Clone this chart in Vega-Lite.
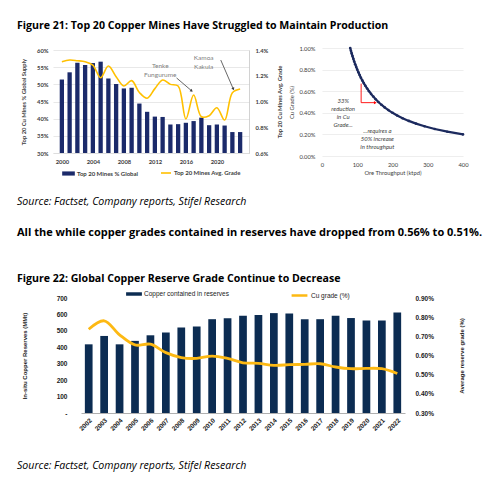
{
  "$schema": "https://vega.github.io/schema/vega-lite/v6.json",
  "padding": {"left": 17, "top": 0, "right": 0, "bottom": 0},
  "background": "white",
  "columns": 2,
  "align": "each",
  "bounds": "flush",
  "spacing": {"row": 0, "column": 73},
  "resolve": {"scale": {"color": "independent", "stroke": "independent"}},
  "config": {
    "view": {"stroke": null},
    "title": {"anchor": "start", "frame": "group", "orient": "bottom", "baseline": "middle", "font": "Open Sans", "fontSize": 10.6, "fontWeight": "bold", "color": "#000000", "dx": -36},
    "axis": {"labelFont": "Lato", "titleFont": "Lato", "labelColor": "#404040", "titleColor": "#404040", "labelFontSize": 5.8, "titleFontSize": 5.8, "labelFontWeight": "bold", "titleFontWeight": "bold", "ticks": false, "domain": false, "grid": false},
    "legend": {"labelFont": "Lato", "labelColor": "#404040", "labelFontSize": 6, "labelFontWeight": "bold", "padding": 0, "labelOffset": 2, "title": null}
  },
  "datasets": {
    "mines": [
      {"year": 2000, "share": 51.4, "grade": 1.309},
      {"year": 2001, "share": 53.5, "grade": 1.322},
      {"year": 2002, "share": 56.3, "grade": 1.317},
      {"year": 2003, "share": 55.6, "grade": 1.309},
      {"year": 2004, "share": 56.2, "grade": 1.283},
      {"year": 2005, "share": 56.6, "grade": 1.185},
      {"year": 2006, "share": 51.7, "grade": 1.276},
      {"year": 2007, "share": 50.1, "grade": 1.193},
      {"year": 2008, "share": 48.8, "grade": 1.12},
      {"year": 2009, "share": 49.0, "grade": 1.162},
      {"year": 2010, "share": 44.4, "grade": 1.07},
      {"year": 2011, "share": 42.0, "grade": 1.025},
      {"year": 2012, "share": 40.6, "grade": 1.1},
      {"year": 2013, "share": 40.5, "grade": 1.167},
      {"year": 2014, "share": 38.3, "grade": 1.133},
      {"year": 2015, "share": 38.4, "grade": 1.12},
      {"year": 2016, "share": 38.8, "grade": 0.864},
      {"year": 2017, "share": 39.3, "grade": 1.05},
      {"year": 2018, "share": 40.3, "grade": 0.882},
      {"year": 2019, "share": 38.1, "grade": 0.89},
      {"year": 2020, "share": 38.3, "grade": 0.952},
      {"year": 2021, "share": 38.0, "grade": 0.856},
      {"year": 2022, "share": 36.1, "grade": 1.068},
      {"year": 2023, "share": 36.1, "grade": 1.097}
    ],
    "mineNotes": [
      {"label": "Tenke\nFungurume", "x": 2012.7, "y": 1.272},
      {"label": "Kamoa\nKakula", "x": 2018.3, "y": 1.339}
    ],
    "mineArrows": [
      {"name": "tenke", "x": 2014.8, "y": 1.183, "x2": 2016.7, "y2": 1.085},
      {"name": "kamoa", "x": 2020.5, "y": 1.322, "x2": 2022.1, "y2": 1.1}
    ],
    "curve": [
      {"throughput": 80.0, "cu": 1.0},
      {"throughput": 82.1, "cu": 0.975},
      {"throughput": 84.2, "cu": 0.95},
      {"throughput": 86.5, "cu": 0.925},
      {"throughput": 88.9, "cu": 0.9},
      {"throughput": 91.4, "cu": 0.875},
      {"throughput": 94.1, "cu": 0.85},
      {"throughput": 97.0, "cu": 0.825},
      {"throughput": 100.0, "cu": 0.8},
      {"throughput": 103.2, "cu": 0.775},
      {"throughput": 106.7, "cu": 0.75},
      {"throughput": 110.3, "cu": 0.725},
      {"throughput": 114.3, "cu": 0.7},
      {"throughput": 118.5, "cu": 0.675},
      {"throughput": 123.1, "cu": 0.65},
      {"throughput": 128.0, "cu": 0.625},
      {"throughput": 133.3, "cu": 0.6},
      {"throughput": 139.1, "cu": 0.575},
      {"throughput": 145.5, "cu": 0.55},
      {"throughput": 152.4, "cu": 0.525},
      {"throughput": 160.0, "cu": 0.5},
      {"throughput": 168.4, "cu": 0.475},
      {"throughput": 177.8, "cu": 0.45},
      {"throughput": 188.2, "cu": 0.425},
      {"throughput": 200.0, "cu": 0.4},
      {"throughput": 213.3, "cu": 0.375},
      {"throughput": 228.6, "cu": 0.35},
      {"throughput": 246.2, "cu": 0.325},
      {"throughput": 266.7, "cu": 0.3},
      {"throughput": 290.9, "cu": 0.275},
      {"throughput": 320.0, "cu": 0.25},
      {"throughput": 355.6, "cu": 0.225},
      {"throughput": 400.0, "cu": 0.2}
    ],
    "curveNotes": [
      {"label": "33%\nreduction\nin Cu\nGrade...", "x": 60, "y": 0.51},
      {"label": "...requires a\n50% increase\nin throughput", "x": 157, "y": 0.229}
    ],
    "curveArrows": [
      {"x": 111, "y": 0.67, "x2": 111, "y2": 0.494},
      {"x": 111, "y": 0.494, "x2": 150, "y2": 0.494}
    ],
    "reserves": [
      {"year": 2002, "reserves": 418, "grade": 0.737},
      {"year": 2003, "reserves": 469, "grade": 0.781},
      {"year": 2004, "reserves": 418, "grade": 0.708},
      {"year": 2005, "reserves": 439, "grade": 0.655},
      {"year": 2006, "reserves": 473, "grade": 0.659},
      {"year": 2007, "reserves": 490, "grade": 0.615},
      {"year": 2008, "reserves": 520, "grade": 0.589},
      {"year": 2009, "reserves": 527, "grade": 0.585},
      {"year": 2010, "reserves": 571, "grade": 0.597},
      {"year": 2011, "reserves": 576, "grade": 0.585},
      {"year": 2012, "reserves": 592, "grade": 0.562},
      {"year": 2013, "reserves": 596, "grade": 0.559},
      {"year": 2014, "reserves": 608, "grade": 0.549},
      {"year": 2015, "reserves": 606, "grade": 0.552},
      {"year": 2016, "reserves": 571, "grade": 0.554},
      {"year": 2017, "reserves": 571, "grade": 0.557},
      {"year": 2018, "reserves": 592, "grade": 0.54},
      {"year": 2019, "reserves": 578, "grade": 0.531},
      {"year": 2020, "reserves": 563, "grade": 0.533},
      {"year": 2021, "reserves": 563, "grade": 0.531},
      {"year": 2022, "reserves": 612, "grade": 0.506}
    ]
  },
  "concat": [
    {
      "width": 196, "height": 48,
      "data": {"values": []},
      "mark": {"type": "rule", "strokeOpacity": 0},
      "encoding": {},
      "title": {"text": "Figure 21: Top 20 Copper Mines Have Struggled to Maintain Production", "orient": "bottom", "offset": -27}
    },
    {"width": 1, "height": 1, "data": {"values": []}, "mark": {"type": "rule", "strokeOpacity": 0}, "encoding": {}},
    {
      "width": 196,
      "height": 108,
      "layer": [
        {
          "data": {"name": "mines"},
          "mark": {"type": "bar", "width": 4.3},
          "encoding": {
            "x": {"field": "year", "type": "quantitative", "scale": {"domain": [1999.5, 2023.5], "nice": false},
              "axis": {"orient": "bottom", "values": [2000, 2004, 2008, 2012, 2016, 2020], "format": "d", "title": null, "offset": -3, "domain": true, "domainColor": "#d9d9d9", "domainWidth": 0.7, "labelPadding": 5, "labelFlush": false, "labelOverlap": false}},
            "y": {"field": "share", "type": "quantitative", "scale": {"domain": [30, 60], "range": [105, 2]},
              "axis": {"orient": "left", "values": [30, 35, 40, 45, 50, 55, 60], "labelExpr": "datum.value + '%'", "grid": true, "gridColor": "#d9d9d9", "gridWidth": 0.6, "labelPadding": 5, "title": "Top 20 Cu Mines % Global Supply", "titlePadding": 10}},
            "y2": {"datum": 30},
            "color": {"datum": "Top 20 Mines % Global", "type": "nominal", "scale": {"range": ["#1b2a6a"]},
              "legend": {"orient": "none", "legendX": 9, "legendY": 119, "symbolType": "M-1,-0.33L1,-0.33L1,0.33L-1,0.33Z", "symbolSize": 160, "symbolStrokeWidth": 0}}
          }
        },
        {
          "data": {"name": "mines"},
          "mark": {"type": "line", "interpolate": "catmull-rom", "strokeWidth": 1.6},
          "encoding": {
            "x": {"field": "year", "type": "quantitative", "scale": {"domain": [1999.5, 2023.5], "nice": false},
              "axis": {"orient": "bottom", "values": [2000, 2004, 2008, 2012, 2016, 2020], "format": "d", "title": null, "offset": -3, "domain": true, "domainColor": "#d9d9d9", "domainWidth": 0.7, "labelPadding": 5, "labelFlush": false, "labelOverlap": false}},
            "y": {"field": "grade", "type": "quantitative", "scale": {"domain": [0.6, 1.4], "range": [105, 2]},
              "axis": {"orient": "right", "values": [0.6, 0.8, 1.0, 1.2, 1.4], "labelExpr": "format(datum.value, '.1f') + '%'", "domain": true, "domainColor": "#bfbfbf", "domainWidth": 0.7, "labelPadding": 6, "title": "Top 20 Cu Mines Avg. Grade", "titleAngle": -90, "titlePadding": 15}},
            "stroke": {"datum": "Top 20 Mines Avg. Grade", "type": "nominal", "scale": {"range": ["#ffc000"]},
              "legend": {"orient": "none", "legendX": 107, "legendY": 119, "symbolType": "stroke", "symbolSize": 100, "symbolStrokeWidth": 1.6}}
          }
        },
        {
          "data": {"name": "mineNotes"},
          "mark": {"type": "text", "font": "Lato", "fontSize": 6.5, "color": "#7f7f7f", "lineBreak": "\n", "lineHeight": 9, "align": "center", "baseline": "middle"},
          "encoding": {
            "x": {"field": "x", "type": "quantitative", "scale": {"domain": [1999.5, 2023.5], "nice": false},
              "axis": {"orient": "bottom", "values": [2000, 2004, 2008, 2012, 2016, 2020], "format": "d", "title": null, "offset": -3, "domain": true, "domainColor": "#d9d9d9", "domainWidth": 0.7, "labelPadding": 5, "labelFlush": false, "labelOverlap": false}},
            "y": {"field": "y", "type": "quantitative", "scale": {"domain": [0.6, 1.4], "range": [105, 2]}, "axis": null},
            "text": {"field": "label"}
          }
        },
        {
          "data": {"name": "mineArrows"},
          "mark": {"type": "rule", "color": "#404040", "strokeWidth": 0.8},
          "encoding": {
            "x": {"field": "x", "type": "quantitative", "scale": {"domain": [1999.5, 2023.5], "nice": false},
              "axis": {"orient": "bottom", "values": [2000, 2004, 2008, 2012, 2016, 2020], "format": "d", "title": null, "offset": -3, "domain": true, "domainColor": "#d9d9d9", "domainWidth": 0.7, "labelPadding": 5, "labelFlush": false, "labelOverlap": false}},
            "y": {"field": "y", "type": "quantitative", "scale": {"domain": [0.6, 1.4], "range": [105, 2]}, "axis": null},
            "x2": {"field": "x2"},
            "y2": {"field": "y2"}
          }
        },
        {
          "data": {"name": "mineArrows"},
          "transform": [{"filter": "datum.name == 'tenke'"}],
          "mark": {"type": "point", "shape": "triangle", "filled": true, "color": "#404040", "size": 10, "angle": 129, "opacity": 1},
          "encoding": {
            "x": {"field": "x2", "type": "quantitative", "scale": {"domain": [1999.5, 2023.5], "nice": false},
              "axis": {"orient": "bottom", "values": [2000, 2004, 2008, 2012, 2016, 2020], "format": "d", "title": null, "offset": -3, "domain": true, "domainColor": "#d9d9d9", "domainWidth": 0.7, "labelPadding": 5, "labelFlush": false, "labelOverlap": false}},
            "y": {"field": "y2", "type": "quantitative", "scale": {"domain": [0.6, 1.4], "range": [105, 2]}, "axis": null}
          }
        },
        {
          "data": {"name": "mineArrows"},
          "transform": [{"filter": "datum.name == 'kamoa'"}],
          "mark": {"type": "point", "shape": "triangle", "filled": true, "color": "#404040", "size": 10, "angle": 154, "opacity": 1},
          "encoding": {
            "x": {"field": "x2", "type": "quantitative", "scale": {"domain": [1999.5, 2023.5], "nice": false},
              "axis": {"orient": "bottom", "values": [2000, 2004, 2008, 2012, 2016, 2020], "format": "d", "title": null, "offset": -3, "domain": true, "domainColor": "#d9d9d9", "domainWidth": 0.7, "labelPadding": 5, "labelFlush": false, "labelOverlap": false}},
            "y": {"field": "y2", "type": "quantitative", "scale": {"domain": [0.6, 1.4], "range": [105, 2]}, "axis": null}
          }
        }
      ],
      "resolve": {"scale": {"y": "independent"}}
    },
    {
      "width": 141,
      "height": 108,
      "layer": [
        {
          "data": {"name": "curve"},
          "mark": {"type": "line", "color": "#1c2a5e", "strokeWidth": 2.2, "point": {"filled": true, "size": 7, "color": "#1c2a5e"}},
          "encoding": {
            "x": {"field": "throughput", "type": "quantitative", "scale": {"domain": [0, 400], "nice": false},
              "axis": {"orient": "bottom", "values": [0, 100, 200, 300, 400], "labelOverlap": false, "labelFlush": false, "labelFontWeight": "normal", "labelPadding": 5, "title": "Ore Throughput (ktpd)", "titleFontWeight": "normal", "titlePadding": 3}},
            "y": {"field": "cu", "type": "quantitative", "scale": {"domain": [0, 1], "nice": false},
              "axis": {"orient": "left", "values": [0, 0.2, 0.4, 0.6, 0.8, 1.0], "labelExpr": "format(datum.value, '.2f') + '%'", "labelOverlap": false, "labelFontWeight": "normal", "grid": true, "gridColor": "#e3e3e3", "gridWidth": 0.6, "labelPadding": 7, "title": "Cu Grade (%)", "titleFontWeight": "normal", "titlePadding": 4}}
          }
        },
        {
          "data": {"name": "curveArrows"},
          "mark": {"type": "rule", "color": "#ff0000", "strokeWidth": 0.9},
          "encoding": {
            "x": {"field": "x", "type": "quantitative", "scale": {"domain": [0, 400], "nice": false},
              "axis": {"orient": "bottom", "values": [0, 100, 200, 300, 400], "labelOverlap": false, "labelFlush": false, "labelFontWeight": "normal", "labelPadding": 5, "title": "Ore Throughput (ktpd)", "titleFontWeight": "normal", "titlePadding": 3}},
            "y": {"field": "y", "type": "quantitative", "scale": {"domain": [0, 1], "nice": false},
              "axis": {"orient": "left", "values": [0, 0.2, 0.4, 0.6, 0.8, 1.0], "labelExpr": "format(datum.value, '.2f') + '%'", "labelOverlap": false, "labelFontWeight": "normal", "grid": true, "gridColor": "#e3e3e3", "gridWidth": 0.6, "labelPadding": 7, "title": "Cu Grade (%)", "titleFontWeight": "normal", "titlePadding": 4}},
            "x2": {"field": "x2"},
            "y2": {"field": "y2"}
          }
        },
        {
          "data": {"name": "curveArrows"},
          "transform": [{"filter": "datum.x2 > datum.x"}],
          "mark": {"type": "point", "shape": "triangle", "filled": true, "color": "#ff0000", "size": 10, "angle": 90, "opacity": 1},
          "encoding": {
            "x": {"field": "x2", "type": "quantitative", "scale": {"domain": [0, 400], "nice": false},
              "axis": {"orient": "bottom", "values": [0, 100, 200, 300, 400], "labelOverlap": false, "labelFlush": false, "labelFontWeight": "normal", "labelPadding": 5, "title": "Ore Throughput (ktpd)", "titleFontWeight": "normal", "titlePadding": 3}},
            "y": {"field": "y2", "type": "quantitative", "scale": {"domain": [0, 1], "nice": false},
              "axis": {"orient": "left", "values": [0, 0.2, 0.4, 0.6, 0.8, 1.0], "labelExpr": "format(datum.value, '.2f') + '%'", "labelOverlap": false, "labelFontWeight": "normal", "grid": true, "gridColor": "#e3e3e3", "gridWidth": 0.6, "labelPadding": 7, "title": "Cu Grade (%)", "titleFontWeight": "normal", "titlePadding": 4}}
          }
        },
        {
          "data": {"name": "curveNotes"},
          "mark": {"type": "text", "font": "Lato", "fontSize": 6, "fontStyle": "italic", "color": "#404040", "lineBreak": "\n", "lineHeight": 8, "align": "center", "baseline": "middle"},
          "encoding": {
            "x": {"field": "x", "type": "quantitative", "scale": {"domain": [0, 400], "nice": false},
              "axis": {"orient": "bottom", "values": [0, 100, 200, 300, 400], "labelOverlap": false, "labelFlush": false, "labelFontWeight": "normal", "labelPadding": 5, "title": "Ore Throughput (ktpd)", "titleFontWeight": "normal", "titlePadding": 3}},
            "y": {"field": "y", "type": "quantitative", "scale": {"domain": [0, 1], "nice": false},
              "axis": {"orient": "left", "values": [0, 0.2, 0.4, 0.6, 0.8, 1.0], "labelExpr": "format(datum.value, '.2f') + '%'", "labelOverlap": false, "labelFontWeight": "normal", "grid": true, "gridColor": "#e3e3e3", "gridWidth": 0.6, "labelPadding": 7, "title": "Cu Grade (%)", "titleFontWeight": "normal", "titlePadding": 4}},
            "text": {"field": "label"}
          }
        }
      ]
    },
    {
      "width": 196, "height": 1,
      "data": {"values": []},
      "mark": {"type": "rule", "strokeOpacity": 0},
      "encoding": {},
      "title": {"text": "Source: Factset, Company reports, Stifel Research", "orient": "bottom", "offset": 40, "fontStyle": "italic", "fontWeight": "normal", "fontSize": 10.6}
    },
    {"width": 1, "height": 1, "data": {"values": []}, "mark": {"type": "rule", "strokeOpacity": 0}, "encoding": {}},
    {
      "width": 196, "height": 1,
      "data": {"values": []},
      "mark": {"type": "rule", "strokeOpacity": 0},
      "encoding": {},
      "title": {"text": "All the while copper grades contained in reserves have dropped from 0.56% to 0.51%.", "orient": "bottom", "offset": 69, "fontSize": 11}
    },
    {"width": 1, "height": 1, "data": {"values": []}, "mark": {"type": "rule", "strokeOpacity": 0}, "encoding": {}},
    {
      "width": 196, "height": 140,
      "data": {"values": []},
      "mark": {"type": "rule", "strokeOpacity": 0},
      "encoding": {},
      "title": {"text": "Figure 22: Global Copper Reserve Grade Continue to Decrease", "orient": "bottom", "offset": -24}
    },
    {"width": 1, "height": 1, "data": {"values": []}, "mark": {"type": "rule", "strokeOpacity": 0}, "encoding": {}},
    {
      "width": 196,
      "height": 115,
      "data": {"name": "reserves"},
      "layer": [
        {
          "mark": {"type": "bar"},
          "encoding": {
            "x": {"field": "year", "type": "ordinal", "scale": {"paddingInner": 0.5, "paddingOuter": 0.25, "range": [28, 352]},
              "axis": {"orient": "bottom", "labelAngle": -45, "labelFont": "Liberation Sans", "labelFontSize": 6.5, "labelColor": "#1a1a1a", "domain": true, "domainColor": "#b0b0b0", "domainWidth": 1, "labelPadding": 4, "title": null}},
            "y": {"field": "reserves", "type": "quantitative", "scale": {"domain": [0, 700]},
              "axis": {"orient": "left", "offset": -28, "values": [0, 100, 200, 300, 400, 500, 600, 700], "labelExpr": "datum.value == 0 ? '-' : datum.label", "labelFont": "Liberation Sans", "labelFontSize": 6.5, "labelColor": "#1a1a1a", "labelPadding": 14, "title": "In-situ Copper Reserves (MMt)", "titleFont": "Liberation Sans", "titleFontSize": 6, "titleColor": "#1a1a1a", "titlePadding": 29}},
            "color": {"datum": "Copper contained in reserves", "type": "nominal", "scale": {"range": ["#0c2c52"]},
              "legend": {"orient": "none", "legendX": 73, "legendY": -12, "labelFont": "Liberation Sans", "labelFontSize": 6.5, "labelColor": "#1a1a1a", "labelFontWeight": "normal", "symbolType": "M-1,-0.22L1,-0.22L1,0.22L-1,0.22Z", "symbolSize": 250, "symbolStrokeWidth": 0}}
          }
        },
        {
          "mark": {"type": "line", "interpolate": "catmull-rom", "strokeWidth": 2.8},
          "encoding": {
            "x": {"field": "year", "type": "ordinal"},
            "y": {"field": "grade", "type": "quantitative", "scale": {"domain": [0.3, 0.9]},
              "axis": {"orient": "right", "offset": 156, "values": [0.3, 0.4, 0.5, 0.6, 0.7, 0.8, 0.9], "labelExpr": "format(datum.value, '.2f') + '%'", "labelFont": "Liberation Sans", "labelFontSize": 6.5, "labelColor": "#1a1a1a", "labelPadding": 10, "title": "Average reserve grade (%)", "titleFont": "Liberation Sans", "titleFontSize": 6, "titleColor": "#1a1a1a", "titleAngle": -90, "titlePadding": 31}},
            "stroke": {"datum": "Cu grade (%)", "type": "nominal", "scale": {"range": ["#fdb913"]},
              "legend": {"orient": "none", "legendX": 237, "legendY": -12, "labelFont": "Liberation Sans", "labelFontSize": 6.5, "labelColor": "#1a1a1a", "labelFontWeight": "normal", "symbolType": "stroke", "symbolSize": 250, "symbolStrokeWidth": 2.5}}
          }
        }
      ],
      "resolve": {"scale": {"y": "independent"}}
    },
    {"width": 1, "height": 1, "data": {"values": []}, "mark": {"type": "rule", "strokeOpacity": 0}, "encoding": {}},
    {
      "width": 196, "height": 1,
      "data": {"values": []},
      "mark": {"type": "rule", "strokeOpacity": 0},
      "encoding": {},
      "title": {"text": "Source: Factset, Company reports, Stifel Research", "orient": "bottom", "offset": 47, "fontStyle": "italic", "fontWeight": "normal", "fontSize": 10.6}
    },
    {"width": 1, "height": 1, "data": {"values": []}, "mark": {"type": "rule", "strokeOpacity": 0}, "encoding": {}}
  ]
}
